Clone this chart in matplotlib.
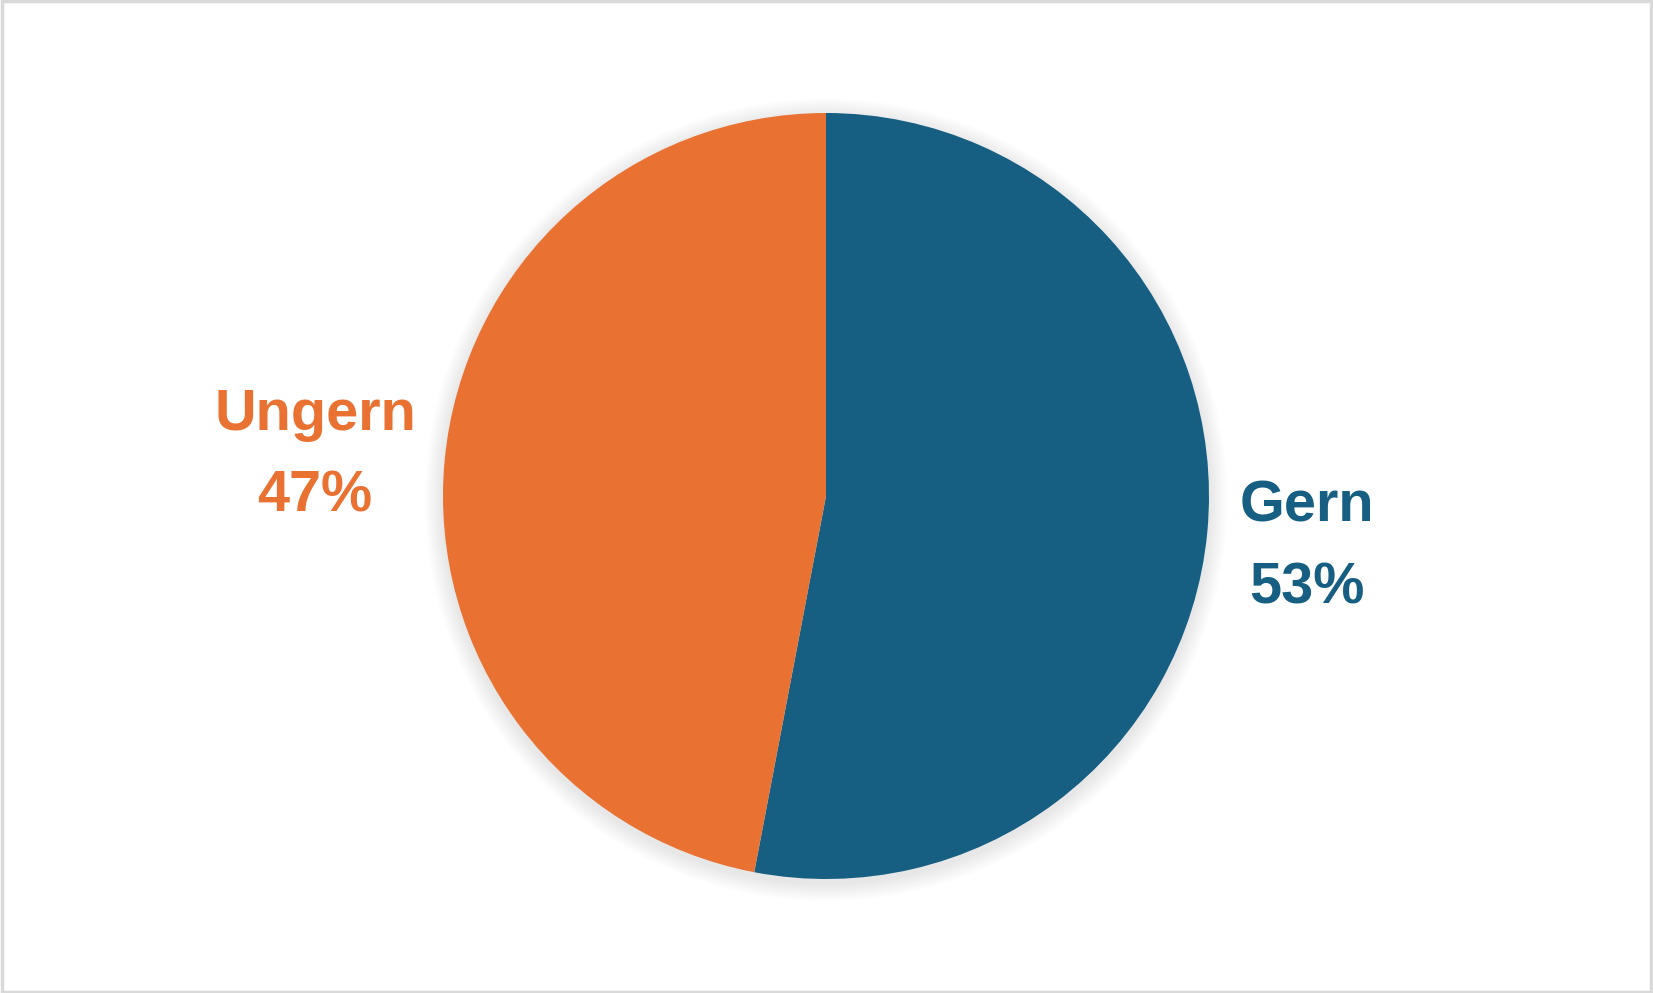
import matplotlib.pyplot as plt
from matplotlib.patches import Circle, Rectangle

labels = ['Gern', 'Ungern']
values = [53, 47]
colors = ['#165F82', '#E97132']

W, H = 1653, 993
fig = plt.figure(figsize=(W / 100, H / 100), dpi=100)
fig.patch.set_facecolor('white')

# pie placement in pixels
cx, cy, r = 826, 496, 383
ax = fig.add_axes([(cx - r * 1.1) / W, (H - cy - r * 1.1) / H, 2.2 * r / W, 2.2 * r / H])
ax.set_xlim(-1.1, 1.1)
ax.set_ylim(-1.1, 1.1)
ax.set_aspect('equal')
ax.axis('off')

# soft shadow
for i in range(12):
    ax.add_patch(Circle((0, -0.01), 1.0 + 0.004 * (i + 1), color='black',
                        alpha=0.008, lw=0, zorder=0))

ax.pie(values, colors=colors, startangle=90, counterclock=False, radius=1.0,
       wedgeprops=dict(linewidth=0), frame=False)
ax.set_xlim(-1.1, 1.1)
ax.set_ylim(-1.1, 1.1)

font = dict(family='Liberation Sans', fontweight='bold', fontsize=41.5,
            ha='center', va='center')
fig.text(1307 / W, 1 - 506 / H, labels[0], color=colors[0], **font)
fig.text(1307 / W, 1 - 588 / H, f'{values[0]}%', color=colors[0], **font)
fig.text(315 / W, 1 - 415 / H, labels[1], color=colors[1], **font)
fig.text(315 / W, 1 - 496 / H, f'{values[1]}%', color=colors[1], **font)

# light frame
fig.patches.append(Rectangle((0.001, 0.0015), 0.998, 0.997, transform=fig.transFigure,
                             fill=False, edgecolor='#D9D9D9', linewidth=2.5))

fig.savefig('out.png', dpi=100)
